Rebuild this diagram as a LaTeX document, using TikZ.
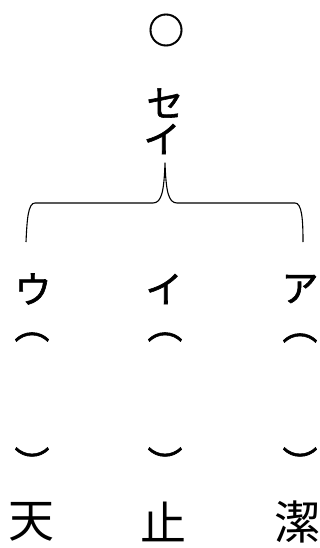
\documentclass[tikz,border=0pt]{standalone}
\usepackage{fontspec}
\newfontfamily\cjk[FakeBold=1.6]{Noto Sans CJK JP}
\newfontfamily\cjkk{Noto Sans CJK JP}
\begin{document}
\begin{tikzpicture}[x=1pt,y=-1pt,
  kana/.style={font=\cjk\fontsize{37}{37}\selectfont, inner sep=0pt, anchor=center},
  circstyle/.style={font=\cjk\fontsize{36}{36}\selectfont, inner sep=0pt, anchor=center},
  brk/.style={font=\cjk\fontsize{35}{35}\selectfont, inner sep=0pt, anchor=center},
  kanji/.style={font=\cjkk\fontsize{46}{46}\selectfont, inner sep=0pt, anchor=center},
  bracepath/.style={line width=1.1pt, line join=round}]
\useasboundingbox (0,0) rectangle (320,548);
\node[circstyle] (circ) at (166,30) {○};
\node[kana] (se) at (165,103) {セ};
\node[kana] (i1) at (162,139) {イ};
\coordinate (bl) at (26,242);
\coordinate (br) at (303,242);
\coordinate (peak) at (165,163);
\draw[bracepath] (bl) .. controls (27,220) and (28,203) .. (35,203)
  -- (153,203) .. controls (162,203) and (164,190) .. (peak)
  .. controls (166,190) and (168,203) .. (177,203)
  -- (295,203) .. controls (302,203) and (303,220) .. (br);
\node[kana] (u) at (33,289) {ウ};
\node[kana] (i2) at (164,289) {イ};
\node[kana] (a) at (300,289) {ア};
\node[brk] (o1) at (32,337) {︵};
\node[brk] (o2) at (165,337) {︵};
\node[brk] (o3) at (300,338) {︵};
\node[brk] (c1) at (32,462) {︶};
\node[brk] (c2) at (165,462) {︶};
\node[brk] (c3) at (300,462) {︶};
\node[kanji] (k1) at (32,522) {天};
\node[kanji] (k2) at (163,522) {止};
\node[kanji] (k3) at (297,522) {潔};
\end{tikzpicture}
\end{document}
